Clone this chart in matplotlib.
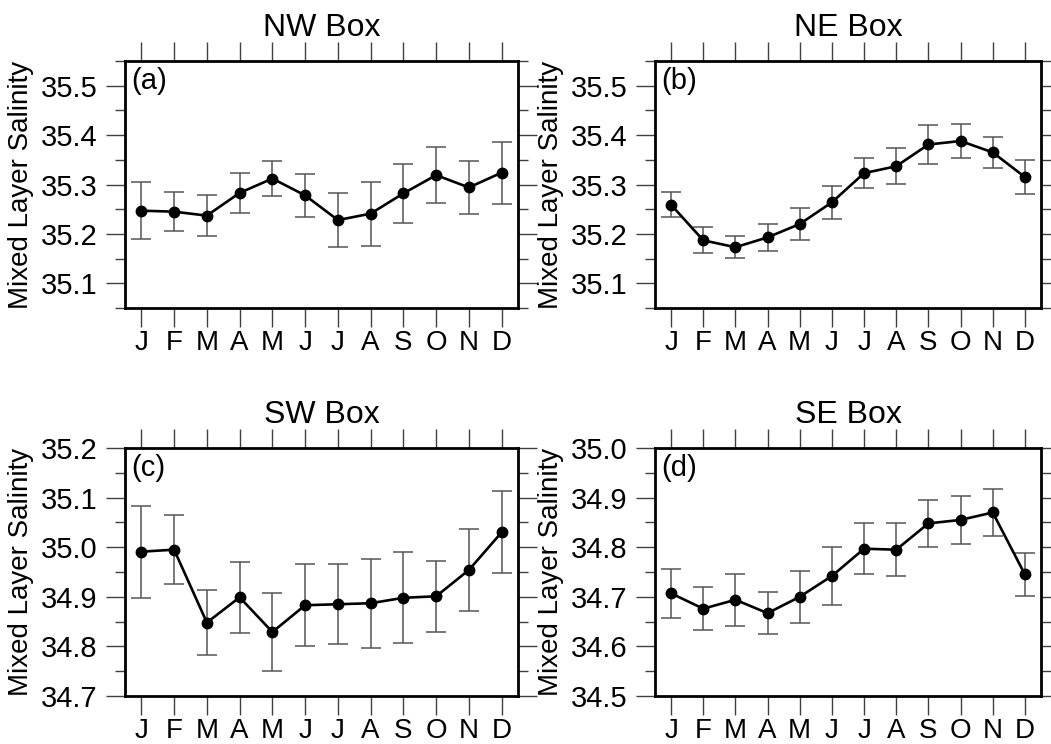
import matplotlib
matplotlib.use("Agg")
import matplotlib.pyplot as plt
from matplotlib.ticker import MultipleLocator, FormatStrFormatter
import numpy as np

plt.rcParams['font.family'] = ['Liberation Sans', 'DejaVu Sans']

months = ['J', 'F', 'M', 'A', 'M', 'J', 'J', 'A', 'S', 'O', 'N', 'D']

# mean mixed layer salinity and error bar half widths
nw_mean = [35.247, 35.245, 35.237, 35.283, 35.312, 35.278, 35.228, 35.241, 35.282, 35.319, 35.294, 35.324]
nw_err = [0.058, 0.039, 0.042, 0.040, 0.036, 0.044, 0.055, 0.065, 0.059, 0.057, 0.053, 0.063]

ne_mean = [35.259, 35.187, 35.173, 35.193, 35.220, 35.264, 35.323, 35.337, 35.381, 35.388, 35.365, 35.315]
ne_err = [0.025, 0.026, 0.022, 0.027, 0.033, 0.033, 0.030, 0.036, 0.040, 0.035, 0.032, 0.035]

sw_mean = [34.991, 34.995, 34.848, 34.899, 34.829, 34.883, 34.885, 34.887, 34.898, 34.901, 34.954, 35.030]
sw_err = [0.093, 0.070, 0.066, 0.072, 0.078, 0.083, 0.081, 0.090, 0.092, 0.072, 0.083, 0.083]

se_mean = [34.707, 34.676, 34.694, 34.667, 34.700, 34.742, 34.797, 34.795, 34.848, 34.855, 34.870, 34.745]
se_err = [0.049, 0.043, 0.052, 0.042, 0.052, 0.059, 0.051, 0.053, 0.048, 0.049, 0.048, 0.044]

titles = ['NW Box', 'NE Box', 'SW Box', 'SE Box']
tags = ['(a)', '(b)', '(c)', '(d)']
ylims = [(35.05, 35.55), (35.05, 35.55), (34.7, 35.2), (34.5, 35.0)]

W, H = 1051, 744
fig = plt.figure(figsize=(W / 100, H / 100), dpi=100)

# axes boxes in pixels: left, top, right, bottom
boxes = [(125, 61, 518, 308), (655, 61, 1041, 308),
         (125, 448, 518, 696), (655, 448, 1041, 696)]

x = np.arange(1, 13)
panels = [(nw_mean, nw_err), (ne_mean, ne_err), (sw_mean, sw_err), (se_mean, se_err)]

for i, (mean, err) in enumerate(panels):
    l, t, r, b = boxes[i]
    ax = fig.add_axes([l / W, (H - b) / H, (r - l) / W, (b - t) / H])
    ax.errorbar(x, mean, yerr=err, fmt='none', ecolor='#555555', elinewidth=1.1,
                capsize=7.5, capthick=1.1, zorder=2)
    ax.plot(x, mean, '-o', color='black', lw=1.9, ms=7.5, zorder=3)

    ax.set_xlim(0.5, 12.5)
    ax.set_ylim(*ylims[i])
    ax.set_xticks(x)
    ax.set_xticklabels(months)
    ax.yaxis.set_major_locator(MultipleLocator(0.1))
    ax.yaxis.set_minor_locator(MultipleLocator(0.05))
    ax.yaxis.set_major_formatter(FormatStrFormatter('%.1f'))

    ax.tick_params(axis='both', which='major', direction='out', length=14, width=1.0,
                   color='#404040', labelsize=21, pad=6)
    ax.tick_params(axis='y', which='minor', direction='out', length=7, width=1.0,
                   color='#404040')
    ax.tick_params(axis='x', which='both', top=True, labeltop=False, pad=2, labelsize=20)
    ax.tick_params(axis='y', which='both', right=True, labelright=False)

    for s in ax.spines.values():
        s.set_linewidth(2.0)

    ax.set_title(titles[i], fontsize=23, pad=18)
    ax.set_ylabel('Mixed Layer Salinity', fontsize=20, labelpad=5)
    ax.text(0.015, 0.975, tags[i], transform=ax.transAxes, fontsize=21,
            ha='left', va='top')

fig.savefig('out.png', dpi=100)
